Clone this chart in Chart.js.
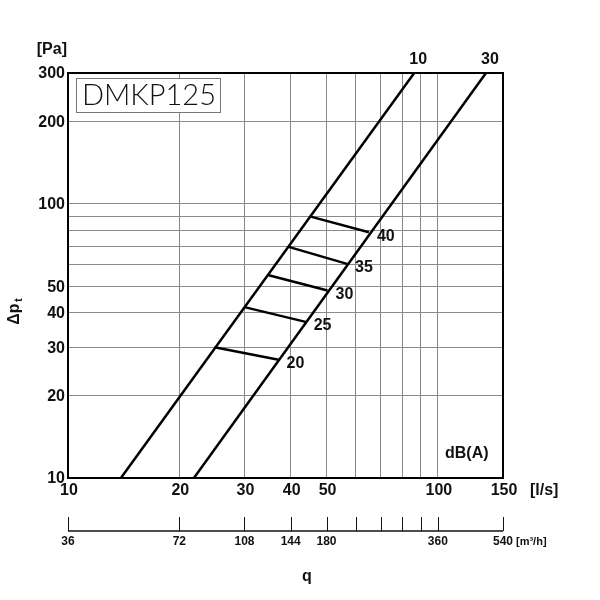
<!DOCTYPE html>
<html>
<head>
<meta charset="utf-8">
<script src="https://cdn.jsdelivr.net/npm/chart.js@4"></script>
<style>
  html, body { margin: 0; padding: 0; background: #fff; }
  #wrap { width: 600px; height: 600px; }
</style>
</head>
<body>
<div id="wrap"><canvas id="c" width="600" height="600"></canvas></div>
<script>
// ---- data ----
const xGridValues = [10, 20, 30, 40, 50, 60, 70, 80, 90, 100, 150];
const yGridValues = [10, 20, 30, 40, 50, 60, 70, 80, 90, 100, 200, 300];
const xTickLabels = [10, 20, 30, 40, 50, 100, 150];
const yTickLabels = [10, 20, 30, 40, 50, 100, 200, 300];

const curveNames = ['10', '30'];
const curve10Q = [13.9, 86.3];
const curve10P = [10, 300];
const curve30Q = [21.9, 134.9];
const curve30P = [10, 300];

const dbLevels = [20, 25, 30, 35, 40];
const dbStartQ = [24.9, 30.0, 34.9, 39.3, 45.3];
const dbStartP = [30.0, 42.0, 54.9, 69.8, 89.8];
const dbEndQ   = [37.1, 43.9, 50.3, 56.8, 65.1];
const dbEndP   = [27.0, 37.1, 48.3, 60.4, 78.8];

const m3hTicks  = [36, 72, 108, 144, 180, 216, 252, 288, 324, 360, 540];
const m3hLabels = [36, 72, 108, 144, 180, 360, 540];
const m3hPerLs = 3.6;

// ---- datasets ----
const lineStyle = { borderColor: '#000', borderWidth: 2.5, pointRadius: 0, showLine: true, fill: false, tension: 0 };
const datasets = [
  Object.assign({ label: curveNames[0], data: curve10Q.map((q, i) => ({ x: q, y: curve10P[i] })) }, lineStyle),
  Object.assign({ label: curveNames[1], data: curve30Q.map((q, i) => ({ x: q, y: curve30P[i] })) }, lineStyle)
];
dbLevels.forEach((db, i) => {
  datasets.push(Object.assign({ label: 'dB ' + db,
    data: [{ x: dbStartQ[i], y: dbStartP[i] }, { x: dbEndQ[i], y: dbEndP[i] }] }, lineStyle));
});

const F = '"Liberation Sans", Arial, sans-serif';

const decorPlugin = {
  id: 'decor',
  beforeDatasetsDraw(chart) {
    const { ctx, chartArea: a } = chart;
    ctx.save();
    ctx.strokeStyle = '#000';
    ctx.lineWidth = 2;
    ctx.strokeRect(a.left, a.top, a.right - a.left, a.bottom - a.top);
    ctx.restore();
  },
  afterDraw(chart) {
    const { ctx, chartArea: a, scales } = chart;
    const xs = scales.x, ys = scales.y;
    ctx.save();
    ctx.fillStyle = '#111';
    ctx.textBaseline = 'middle';

    // y tick labels
    ctx.font = 'bold 16px ' + F;
    ctx.textAlign = 'right';
    yTickLabels.forEach(v => ctx.fillText(String(v), a.left - 3, ys.getPixelForValue(v) + 1));
    ctx.fillText('[Pa]', 67, 50);

    // x tick labels
    ctx.font = 'bold 16px ' + F;
    ctx.textAlign = 'center';
    xTickLabels.forEach(v => ctx.fillText(String(v), xs.getPixelForValue(v) + 1, 491));
    ctx.textAlign = 'left';
    ctx.fillText('[l/s]', 530, 491);

    // curve labels at top
    ctx.font = 'bold 16px ' + F;
    ctx.textAlign = 'center';
    ctx.fillText(curveNames[0], xs.getPixelForValue(curve10Q[1]) + 4, 60);
    ctx.fillText(curveNames[1], xs.getPixelForValue(curve30Q[1]) + 4, 60);

    // dB labels
    ctx.font = 'bold 16px ' + F;
    ctx.textAlign = 'left';
    dbLevels.forEach((db, i) => {
      ctx.fillText(String(db), xs.getPixelForValue(dbEndQ[i]) + 8, ys.getPixelForValue(dbEndP[i]) + 4);
    });
    ctx.fillText('dB(A)', 445, 454);

    // secondary m3/h axis
    const axY = 531;
    ctx.strokeStyle = '#111';
    ctx.lineWidth = 1.5;
    ctx.beginPath();
    ctx.moveTo(a.left, axY);
    ctx.lineTo(a.right, axY);
    ctx.stroke();
    ctx.lineWidth = 1;
    m3hTicks.forEach(m => {
      const px = Math.round(xs.getPixelForValue(m / m3hPerLs)) + 0.5;
      ctx.beginPath();
      ctx.moveTo(px, axY);
      ctx.lineTo(px, 517);
      ctx.stroke();
    });
    ctx.font = 'bold 12px ' + F;
    ctx.textAlign = 'center';
    m3hLabels.forEach(m => ctx.fillText(String(m), xs.getPixelForValue(m / m3hPerLs), 542));
    ctx.font = 'bold 11px ' + F;
    ctx.textAlign = 'left';
    ctx.fillText('[m³/h]', 516, 542);

    // q
    ctx.font = 'bold 16px ' + F;
    ctx.textAlign = 'center';
    ctx.fillText('q', 307, 577);

    // Δp_t rotated
    ctx.save();
    ctx.translate(19, 312);
    ctx.rotate(-Math.PI / 2);
    ctx.textAlign = 'center';
    ctx.textBaseline = 'alphabetic';
    ctx.font = 'bold 16px ' + F;
    ctx.fillText('Δp', -2, 0);
    ctx.font = 'bold 10px ' + F;
    ctx.fillText('t', 12, 3);
    ctx.restore();

    // model box
    ctx.fillStyle = '#fff';
    ctx.fillRect(76, 78, 145, 35);
    ctx.strokeStyle = '#777';
    ctx.lineWidth = 1;
    ctx.strokeRect(76.5, 78.5, 144, 34);
    ctx.fillStyle = '#111';
    ctx.font = '300 29px Lato, "Open Sans", sans-serif';
    ctx.textAlign = 'left';
    ctx.textBaseline = 'middle';
    ctx.fillText('DMKP125', 82, 96);
    ctx.restore();
  }
};

new Chart(document.getElementById('c'), {
  type: 'scatter',
  data: { datasets },
  options: {
    responsive: false,
    animation: false,
    devicePixelRatio: 1,
    layout: { padding: { left: 68, right: 97, top: 73, bottom: 122 } },
    plugins: { legend: { display: false }, tooltip: { enabled: false } },
    scales: {
      x: {
        type: 'logarithmic', min: 10, max: 150,
        afterBuildTicks: s => { s.ticks = xGridValues.map(v => ({ value: v })); },
        ticks: { display: false },
        grid: { color: '#8a8a8a', lineWidth: 1, drawTicks: false },
        border: { display: false }
      },
      y: {
        type: 'logarithmic', min: 10, max: 300,
        afterBuildTicks: s => { s.ticks = yGridValues.map(v => ({ value: v })); },
        ticks: { display: false },
        grid: { color: '#8a8a8a', lineWidth: 1, drawTicks: false },
        border: { display: false }
      }
    }
  },
  plugins: [decorPlugin]
});
</script>
</body>
</html>
